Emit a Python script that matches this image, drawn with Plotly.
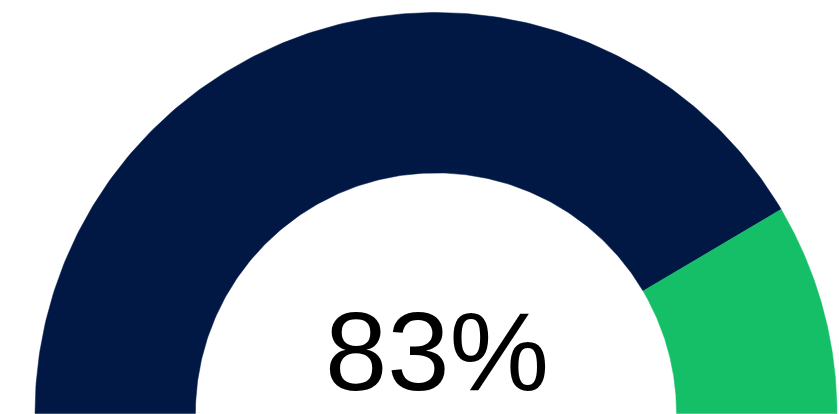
import numpy as np
import plotly.graph_objects as go

categories = ["Achieved", "Remaining"]
values = [83, 17]
colors = ["#011845", "#14BF68"]
label_text = "83%"

W, H = 839, 414
R_OUT = 1.0
R_IN = 0.6
px_per_unit = 401.0
cx_px, cy_px = 436.0, 413.5

x_range = [-cx_px / px_per_unit, (W - cx_px) / px_per_unit]
y_range = [-(H - cy_px) / px_per_unit, cy_px / px_per_unit]

fig = go.Figure()
total = sum(values)
start = 0.0
for cat, v, c in zip(categories, values, colors):
    a0 = np.pi * (1 - start / total)
    a1 = np.pi * (1 - (start + v) / total)
    t = np.linspace(a0, a1, 200)
    xs = np.concatenate([R_OUT * np.cos(t), R_IN * np.cos(t[::-1])])
    ys = np.concatenate([R_OUT * np.sin(t), R_IN * np.sin(t[::-1])])
    xs = np.append(xs, xs[0])
    ys = np.append(ys, ys[0])
    fig.add_trace(go.Scatter(x=xs, y=ys, mode="lines", fill="toself",
                             fillcolor=c, line=dict(color=c, width=0.5),
                             name=cat, hoverinfo="name", showlegend=False))
    start += v

# annotation box bottom (pixels from top of page)
box_bottom_px = 416.0
fig.add_annotation(x=0.003, y=(H - box_bottom_px) / H, yref="paper",
                   text=label_text,
                   showarrow=False, xanchor="center", yanchor="bottom",
                   font=dict(family="Liberation Sans, Arial, sans-serif", size=112, color="#000000"))

fig.update_layout(
    width=W, height=H,
    margin=dict(l=0, r=0, t=0, b=0),
    paper_bgcolor="white", plot_bgcolor="white",
    xaxis=dict(range=x_range, visible=False, fixedrange=True),
    yaxis=dict(range=y_range, visible=False, fixedrange=True),
    showlegend=False,
)

fig.write_html("out.html")
